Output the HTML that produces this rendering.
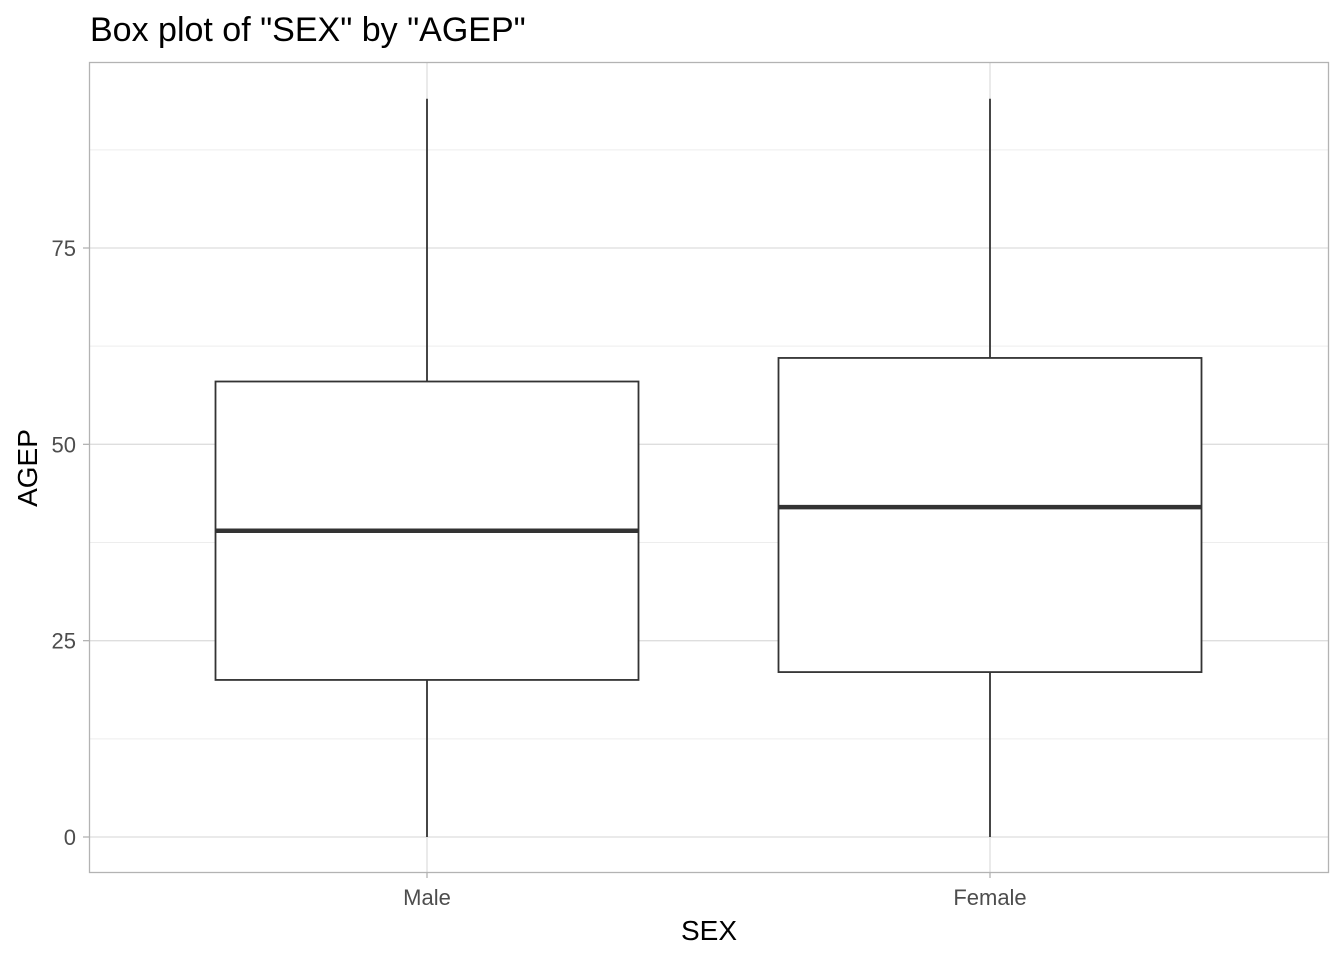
<!DOCTYPE html>
<html><head><meta charset="utf-8"><style>
body{margin:0;background:#fff;}
svg{display:block;font-family:"Liberation Sans",Arial,sans-serif;}
</style></head><body>
<svg id="chart" width="1344" height="960">
<text x="90" y="41" font-size="34" fill="#000">Box plot of "SEX" by "AGEP"</text>
<g id="grid"></g>
<g id="boxes"></g>
<rect x="89.5" y="62.5" width="1239" height="810" fill="none" stroke="#b3b3b3" stroke-width="1.3"/>
<g id="axes"></g>
<text x="709" y="940" font-size="28" text-anchor="middle" fill="#000">SEX</text>
<text transform="translate(37,468) rotate(-90)" font-size="28" text-anchor="middle" fill="#000">AGEP</text>
</svg>
<script>
const categories=["Male","Female"];
const mins=[0,0];
const q1s=[20,21];
const medians=[39,42];
const q3s=[58,61];
const maxs=[94,94];
const yTicks=[0,25,50,75];
const yMinor=[12.5,37.5,62.5,87.5];

const NS="http://www.w3.org/2000/svg";
function y(v){return 837-v*(837-248)/75;}
function x(i){return 427+i*(990-427);}
const halfW=211.5;
function mk(tag,attrs,parent){const e=document.createElementNS(NS,tag);for(const k in attrs)e.setAttribute(k,attrs[k]);parent.appendChild(e);return e;}
const grid=document.getElementById('grid'),boxes=document.getElementById('boxes'),axes=document.getElementById('axes');
yMinor.forEach(v=>{const l=mk('line',{x1:89,x2:1329,y1:y(v),y2:y(v),stroke:'#ededed','stroke-width':1},grid);

});
yTicks.forEach(v=>{const l=mk('line',{x1:89,x2:1329,y1:y(v),y2:y(v),stroke:'#dedede','stroke-width':1.3},grid);


const t=mk('line',{x1:83,x2:89,y1:y(v),y2:y(v),stroke:'#b3b3b3','stroke-width':1.3},axes);


const tx=mk('text',{x:76,y:y(v)+8,'font-size':22,'text-anchor':'end',fill:'#4d4d4d'},axes);tx.textContent=v;

});
categories.forEach((c,i)=>{const cx=x(i);
const g=mk('line',{x1:cx,x2:cx,y1:62,y2:872,stroke:'#dedede','stroke-width':1.3},grid);


const t=mk('line',{x1:cx,x2:cx,y1:872,y2:878,stroke:'#b3b3b3','stroke-width':1.3},axes);


const tx=mk('text',{x:cx,y:905,'font-size':22,'text-anchor':'middle',fill:'#4d4d4d'},axes);tx.textContent=c;


const w1=mk('line',{x1:cx,x2:cx,y1:y(maxs[i]),y2:y(q3s[i]),stroke:'#333','stroke-width':1.8},boxes);


const w2=mk('line',{x1:cx,x2:cx,y1:y(q1s[i]),y2:y(mins[i]),stroke:'#333','stroke-width':1.8},boxes);


const b=mk('rect',{x:cx-halfW,y:y(q3s[i]),width:halfW*2,height:y(q1s[i])-y(q3s[i]),fill:'#fff',stroke:'#333','stroke-width':1.8},boxes);


const m=mk('line',{x1:cx-halfW,x2:cx+halfW,y1:y(medians[i]),y2:y(medians[i]),stroke:'#333','stroke-width':4.5},boxes);

});
</script>
</body></html>
